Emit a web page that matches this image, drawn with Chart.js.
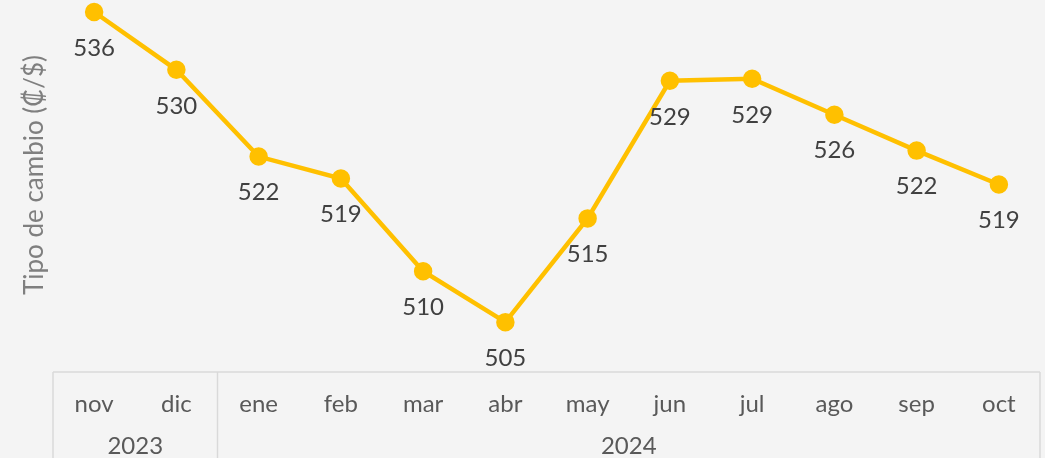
<!DOCTYPE html>
<html>
<head>
<meta charset="utf-8">
<script src="https://cdn.jsdelivr.net/npm/chart.js@4"></script>
<style>
html,body{margin:0;padding:0;background:#f4f4f4;}
#wrap{width:1045px;height:458px;}
</style>
</head>
<body>
<div id="wrap"><canvas id="c"></canvas></div>
<script>
// datos
const meses = ["nov","dic","ene","feb","mar","abr","may","jun","jul","ago","sep","oct"]
const anios = ["2023","2023","2024","2024","2024","2024","2024","2024","2024","2024","2024","2024"]
const tipoCambio = [536.1,530.3,521.6,519.4,510.1,505.0,515.4,529.2,529.4,525.8,522.2,518.8]

const FONT = "Lato"
const gris = "#d9d9d9"

// etiquetas debajo de cada punto
const etiquetas = {
id:"etiquetas",
afterDatasetsDraw(chart){
const ctx = chart.ctx
const meta = chart.getDatasetMeta(0)
ctx.save()
ctx.font = "24px "+FONT
ctx.fillStyle = "#404040"
ctx.textAlign = "center"
ctx.textBaseline = "middle"
meta.data.forEach((p,i)=>{
ctx.fillText(Math.round(tipoCambio[i]).toString(), p.x, p.y+36)
})
ctx.restore()
}
}

// eje de categorias en dos niveles + titulo del eje y
const ejeDoble = {
id:"ejeDoble",
afterDraw(chart){
const ctx = chart.ctx
const a = chart.chartArea
const x = chart.scales.x
const H = chart.height
ctx.save()
ctx.strokeStyle = gris
ctx.lineWidth = 1.5
ctx.beginPath()
ctx.moveTo(a.left, a.bottom)
ctx.lineTo(a.right, a.bottom)
ctx.moveTo(a.left, a.bottom)
ctx.lineTo(a.left, H)
ctx.moveTo(a.right, a.bottom)
ctx.lineTo(a.right, H)
// separadores entre grupos de años
for(let i=1;i<anios.length;i++){
if(anios[i]!==anios[i-1]){
const sx = (x.getPixelForValue(i-1)+x.getPixelForValue(i))/2
ctx.moveTo(sx, a.bottom)
ctx.lineTo(sx, H)
}
}
ctx.stroke()

ctx.font = "24px "+FONT
ctx.fillStyle = "#595959"
ctx.textAlign = "center"
ctx.textBaseline = "middle"
let ini = 0
for(let i=1;i<=anios.length;i++){
if(i===anios.length || anios[i]!==anios[ini]){
const cx = (x.getPixelForValue(ini)+x.getPixelForValue(i-1))/2
ctx.fillText(anios[ini], cx, 446)
ini = i
}
}

ctx.translate(35, 175)
ctx.rotate(-Math.PI/2)
ctx.font = "26px "+FONT
ctx.fillStyle = "#7f7f7f"
ctx.fillText("Tipo de cambio (₡/$)", 0, 0)
ctx.restore()
}
}

new Chart(
document.getElementById("c"),
{
type:"line",
data:{
labels:meses,
datasets:[{
label:"Tipo de cambio",
data:tipoCambio,
borderColor:"#FFC000",
backgroundColor:"#FFC000",
borderWidth:4.5,
pointRadius:7,
pointHoverRadius:7,
tension:0,
clip:false
}]
},
options:{
responsive:true,
maintainAspectRatio:false,
animation:false,
layout:{autoPadding:false,padding:{left:53,right:5,top:0,bottom:21.2}},
plugins:{legend:{display:false},tooltip:{enabled:false}},
scales:{
x:{
offset:true,
grid:{display:false,drawTicks:false,offset:true},
border:{display:false},
ticks:{font:{family:FONT,size:24},color:"#595959",padding:18,maxRotation:0,autoSkip:false}
},
y:{
display:false,
min:500,
max:537.3
}
}
},
plugins:[etiquetas,ejeDoble]
}
)
</script>
</body>
</html>
